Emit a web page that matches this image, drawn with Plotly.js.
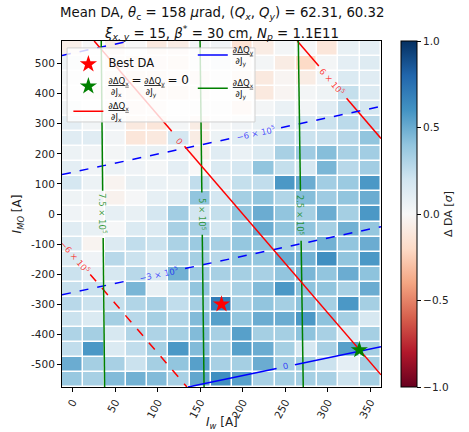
<!DOCTYPE html>
<html>
<head>
<meta charset="utf-8">
<script src="https://cdn.plot.ly/plotly-3.0.1.min.js"></script>
<style>html,body{margin:0;padding:0;background:#fff;}#chart{width:469px;height:432px;}</style>
</head>
<body>
<div id="chart"></div>
<script>
// ---- grid ----
const iw = [0, 25, 50, 75, 100, 125, 150, 175, 200, 225, 250, 275, 300, 325, 350];
const imo = [550, 500, 450, 400, 350, 300, 250, 200, 150, 100, 50, 0, -50, -100, -150, -200, -250, -300, -350, -400, -450, -500, -550];
// Delta DA [sigma], rows from I_MO = 550 (top) down to -550 (bottom)
const deltaDA = [
  [-0.06, 0.00,-0.08, 0.00,-0.10,-0.08, 0.02, 0.03,-0.15,-0.08, 0.02, 0.01,-0.12, 0.08, 0.10],
  [ 0.05, 0.00,-0.05,-0.10,-0.08,-0.10, 0.02, 0.08,-0.05, 0.02,-0.08,-0.20, 0.02, 0.10, 0.13],
  [ 0.02, 0.00,-0.05,-0.10,-0.10,-0.05,-0.08, 0.02,-0.10,-0.10,-0.02,-0.08, 0.04, 0.15, 0.12],
  [ 0.00,-0.05,-0.05,-0.10,-0.10,-0.10,-0.05, 0.00,-0.03,-0.10,-0.02, 0.02, 0.05, 0.24, 0.14],
  [ 0.03, 0.00, 0.02,-0.08,-0.05, 0.00, 0.02, 0.02,-0.12, 0.02, 0.07, 0.03, 0.12, 0.26, 0.18],
  [ 0.10, 0.03, 0.03,-0.10,-0.12, 0.02,-0.08, 0.02, 0.04, 0.08, 0.14, 0.18, 0.22, 0.27, 0.28],
  [ 0.12, 0.12, 0.03,-0.12,-0.10, 0.18,-0.08, 0.06, 0.12, 0.14, 0.23, 0.22, 0.23, 0.28, 0.40],
  [ 0.06, 0.03, 0.02, 0.06, 0.08, 0.06,-0.06, 0.12, 0.07, 0.15, 0.33, 0.36, 0.43, 0.33, 0.35],
  [ 0.10, 0.04, 0.06, 0.04, 0.02, 0.10, 0.00, 0.15, 0.18, 0.40, 0.24, 0.18, 0.46, 0.28, 0.35],
  [ 0.18, 0.06,-0.03, 0.08, 0.07, 0.06, 0.25, 0.12, 0.24, 0.25, 0.58, 0.50, 0.35, 0.37, 0.58],
  [ 0.05, 0.03,-0.04, 0.01, 0.09, 0.13, 0.40, 0.18, 0.34, 0.40, 0.30, 0.43, 0.36, 0.40, 0.50],
  [ 0.04, 0.01, 0.09, 0.08, 0.18, 0.35, 0.19, 0.24, 0.40, 0.50, 0.40, 0.34, 0.50, 0.34, 0.58],
  [ 0.12, 0.08, 0.01, 0.15, 0.14, 0.33, 0.33, 0.18, 0.36, 0.50, 0.40, 0.40, 0.34, 0.48, 0.39],
  [ 0.17,-0.03, 0.14, 0.25, 0.22, 0.32, 0.37, 0.33, 0.39, 0.41, 0.34, 0.33, 0.48, 0.40, 0.50],
  [ 0.15, 0.04, 0.28, 0.22, 0.15, 0.31, 0.34, 0.28, 0.40, 0.39, 0.50, 0.48, 0.62, 0.40, 0.58],
  [ 0.22, 0.10, 0.17, 0.28, 0.17, 0.48, 0.36, 0.33, 0.34, 0.33, 0.40, 0.46, 0.40, 0.50, 0.41],
  [ 0.23, 0.22, 0.15, 0.46, 0.08, 0.24, 0.40, 0.24, 0.33, 0.44, 0.58, 0.41, 0.40, 0.33, 0.50],
  [ 0.28, 0.22, 0.24, 0.30, 0.33, 0.25, 0.34, 0.70, 0.33, 0.40, 0.34, 0.41, 0.34, 0.58, 0.34],
  [ 0.22, 0.15, 0.34, 0.28, 0.34, 0.31, 0.44, 0.55, 0.40, 0.50, 0.50, 0.58, 0.41, 0.34, 0.17],
  [ 0.31, 0.34, 0.17, 0.30, 0.31, 0.34, 0.44, 0.33, 0.55, 0.34, 0.34, 0.41, 0.33, 0.17, 0.34],
  [ 0.25, 0.58, 0.15, 0.25, 0.34, 0.58, 0.44, 0.34, 0.55, 0.50, 0.34, 0.18, 0.33, 0.55, 0.34],
  [ 0.50, 0.34, 0.33, 0.22, 0.34, 0.40, 0.55, 0.33, 0.34, 0.50, 0.34, 0.34, 0.22, 0.10, 0.34],
  [ 0.38, 0.33, 0.44, 0.48, 0.44, 0.33, 0.52, 0.62, 0.55, 0.33, 0.34, 0.34, 0.33, 0.22, 0.34]
];

// ---- markers ----
const bestDA = {x: [175], y: [-300]};
const zeroPoint = {x: [337], y: [-452]};

// ---- contour lines (null = label gap) ----
// d(dQx)/dJx  (red)
const redZeroX = [25.3, 116.5, null, 131.5, 362.5];
const redZeroY = [575, 274.9, null, 225.5, -534.5];
const redPosX = [264.1, 289.4, null, 322.0, 362.5];
const redPosY = [575, 491.7, null, 384.5, 251.2];
const redNegX = [20.7, 134.4];
const redNegY = [-200.8, -575];
// d(dQy)/dJy  (blue)
const blueZeroX = [135.6, 239.8, null, 261.3, 362.5];
const blueZeroY = [-575, -513.5, null, -500.8, -441.1];
const blueNeg3X = [-12.5, 69.6, null, 132.2, 362.5];
const blueNeg3Y = [-268.4, -218.9, null, -181.1, -42.3];
const blueNeg6X = [-12.5, 190, null, 245, 362.5];
const blueNeg6Y = [131.2, 253.5, null, 286.8, 357.7];
const blueNeg9X = [-12.5, 67];
const blueNeg9Y = [527, 575];
// d(dQx)/dJy  (green)
const green75X = [33.6, 35.3, null, 35.9, 37.6];
const green75Y = [575, 77.5, null, -79.8, -575];
const green50X = [149.8, 151.9, null, 152.4, 154.5];
const green50Y = [575, 71.8, null, -68.8, -575];
const green25X = [265.3, 267.8, null, 268.6, 271.1];
const green25Y = [575, 77.5, null, -88.8, -575];

// contour labels
const labelText = ['0', '6 × 10<sup>5</sup>', '−6 × 10<sup>5</sup>', '−6 × 10<sup>5</sup>', '−3 × 10<sup>5</sup>', '0', '7.5 × 10<sup>5</sup>', '5 × 10<sup>5</sup>', '2.5 × 10<sup>5</sup>'];
const labelX = [125.1, 306, 3, 215, 101, 250, 35.6, 152.2, 268.2];
const labelY = [243.8, 440, -144, 270, -200, -506, 0, 0, -5];
const labelAngle = [49, 49, 49, -12, -12, -12, 90, 90, 90];
const labelColor = ['rgba(255,0,0,0.75)','rgba(255,0,0,0.75)','rgba(255,0,0,0.75)','rgba(0,0,255,0.7)','rgba(0,0,255,0.7)','rgba(0,0,255,0.7)','rgba(0,128,0,0.75)','rgba(0,128,0,0.75)','rgba(0,128,0,0.75)'];

// ---- text ----
const titleLines = [
  'Mean DA, <i>θ</i><sub>c</sub> = 158 <i>μ</i>rad, (<i>Q<sub>x</sub></i>, <i>Q<sub>y</sub></i>) = 62.31, 60.32',
  '<i>ξ<sub>x, y</sub></i> = 15, <i>β</i><sup>*</sup> = 30 cm, <i>N<sub>p</sub></i> = 1.1E11'
];
const xTitle = '<i>I<sub>w</sub></i> [A]';
const yTitle = '<i>I<sub>MO</sub></i> [A]';

// ---- colours (matplotlib RdBu) ----
const rdbu = ['#67001f','#b2182b','#d6604d','#f4a582','#fddbc7','#f7f7f7','#d1e5f0','#92c5de','#4393c3','#2166ac','#053061'];
const colorscale = rdbu.map((c, i) => [i / (rdbu.length - 1), c]);

const font = 'DejaVu Sans, sans-serif';
const NB = '\u00a0';

function line(x, y, color, dash, extra) {
  return Object.assign({type: 'scatter', mode: 'lines', x: x, y: y, connectgaps: false,
    line: {color: color, width: 1.5, dash: dash}, showlegend: false, hoverinfo: 'skip'}, extra || {});
}

const fracXX = '<u>∂ΔQ<sub>x</sub></u><br>' + NB + '∂J<sub>x</sub>';
const fracYY = '<u>∂ΔQ<sub>y</sub></u><br>' + NB + '∂J<sub>y</sub>';
const fracXY = '<u>∂ΔQ<sub>x</sub></u><br>' + NB + '∂J<sub>y</sub>';
const eqZero = '<u>∂ΔQ<sub>x</sub></u> <span style="font-size:12px">=</span> <u>∂ΔQ<sub>y</sub></u> <span style="font-size:12px">= 0</span><br>' +
  NB + '∂J<sub>x</sub>' + NB.repeat(9) + '∂J<sub>y</sub>';

const traces = [
  {type: 'heatmap', x: iw, y: imo, z: deltaDA, zmin: -1, zmax: 1, colorscale: colorscale,
   xgap: 1.5, ygap: 1.5, hoverinfo: 'skip', showlegend: false,
   colorbar: {x: 1.0627, xanchor: 'left', xref: 'paper', y: 0.5, yanchor: 'middle', len: 1, lenmode: 'fraction',
     thickness: 16, thicknessmode: 'pixels', outlinewidth: 1, outlinecolor: '#000', ypad: 0, xpad: 0,
     tickvals: [-1, -0.5, 0, 0.5, 1], tickformat: '.1f', ticks: 'outside', ticklen: 4, tickcolor: '#000',
     tickfont: {family: font, size: 10.5, color: '#222'},
     title: {text: 'Δ DA [<i>σ</i>]', side: 'right', font: {family: font, size: 11, color: '#222'}}}},
  line(redNegX, redNegY, 'red', 'dash'),
  line(redPosX, redPosY, 'red', 'solid'),
  line(blueNeg9X, blueNeg9Y, 'blue', 'dash'),
  line(blueNeg6X, blueNeg6Y, 'blue', 'dash'),
  line(blueNeg3X, blueNeg3Y, 'blue', 'dash'),
  line(green50X, green50Y, 'green', 'solid'),
  line(green25X, green25Y, 'green', 'solid'),
  line(redZeroX, redZeroY, 'red', 'solid', {showlegend: true, name: fracXX, legend: 'legend', legendrank: 3}),
  line(blueZeroX, blueZeroY, 'blue', 'solid', {showlegend: true, name: fracYY, legend: 'legend2', legendrank: 1, legendgroup: 'b'}),
  line(green75X, green75Y, 'green', 'solid', {showlegend: true, name: fracXY, legend: 'legend2', legendrank: 2, legendgroup: 'g'}),
  {type: 'scatter', mode: 'markers', x: bestDA.x, y: bestDA.y, name: '<span style="font-size:11.5px">Best DA</span>', legend: 'legend', legendrank: 1,
   marker: {symbol: 'star', size: 13, color: 'red', line: {width: 0}}, hoverinfo: 'skip'},
  {type: 'scatter', mode: 'markers', x: zeroPoint.x, y: zeroPoint.y, legend: 'legend', legendrank: 2,
   name: eqZero, marker: {symbol: 'star', size: 13, color: 'green', line: {width: 0}}, hoverinfo: 'skip'}
];

const annotations = labelText.map((t, i) => ({
  x: labelX[i], y: labelY[i], xref: 'x', yref: 'y', text: t, showarrow: false, textangle: labelAngle[i],
  font: {family: font, size: 8.5, color: labelColor[i]}
}));
annotations.push(
  {x: 0.5, y: 1.079, xref: 'paper', yref: 'paper', text: titleLines[0], showarrow: false, xanchor: 'center', yanchor: 'middle',
   font: {family: font, size: 13.3, color: '#111'}},
  {x: 0.5, y: 1.024, xref: 'paper', yref: 'paper', text: titleLines[1], showarrow: false, xanchor: 'center', yanchor: 'middle',
   font: {family: font, size: 13.3, color: '#111'}},
  {x: 0.5, y: -0.104, xref: 'paper', yref: 'paper', text: xTitle, showarrow: false, xanchor: 'center', yanchor: 'middle',
   font: {family: font, size: 12, color: '#222'}}
);

const layout = {
  width: 469, height: 432,
  margin: {l: 62, r: 88, t: 41, b: 45, pad: 0},
  paper_bgcolor: '#fff', plot_bgcolor: '#fff',
  font: {family: font, size: 10.5, color: '#222'},
  xaxis: {range: [-12.5, 362.5], tickvals: [0, 50, 100, 150, 200, 250, 300, 350], tickangle: -62,
    ticks: 'outside', ticklen: 4, tickcolor: '#000', showline: true, linecolor: '#000', mirror: true, linewidth: 1,
    showgrid: false, zeroline: false, automargin: false, tickfont: {family: font, size: 10.5, color: '#222'}},
  yaxis: {range: [-575, 575], tickvals: [-500, -400, -300, -200, -100, 0, 100, 200, 300, 400, 500],
    ticktext: ['-500', '-400', '-300', '-200', '-100', '0', '100', '200', '300', '400', '500'],
    ticks: 'outside', ticklen: 4, tickcolor: '#000', showline: true, linecolor: '#000', mirror: true, linewidth: 1,
    showgrid: false, zeroline: false, automargin: false, tickfont: {family: font, size: 10.5, color: '#222'},
    title: {text: yTitle, font: {family: font, size: 12, color: '#222'}, standoff: 6}},
  shapes: [{type: 'rect', xref: 'paper', yref: 'paper', x0: 0.016, x1: 0.605, y0: 0.766, y1: 0.98,
    fillcolor: 'rgba(255,255,255,0.8)', line: {color: '#d0d0d0', width: 1}, layer: 'above'}],
  legend: {x: 0.02, y: 0.975, xanchor: 'left', yanchor: 'top', bgcolor: 'rgba(0,0,0,0)', borderwidth: 0,
    font: {family: font, size: 8.5, color: '#111'}, tracegroupgap: 0, itemwidth: 30},
  legend2: {x: 0.41, y: 1.01, xanchor: 'left', yanchor: 'top', bgcolor: 'rgba(0,0,0,0)', borderwidth: 0,
    font: {family: font, size: 8.5, color: '#111'}, tracegroupgap: 8, itemwidth: 30},
  annotations: annotations
};

Plotly.newPlot('chart', traces, layout, {staticPlot: true, displayModeBar: false});
</script>
</body>
</html>
